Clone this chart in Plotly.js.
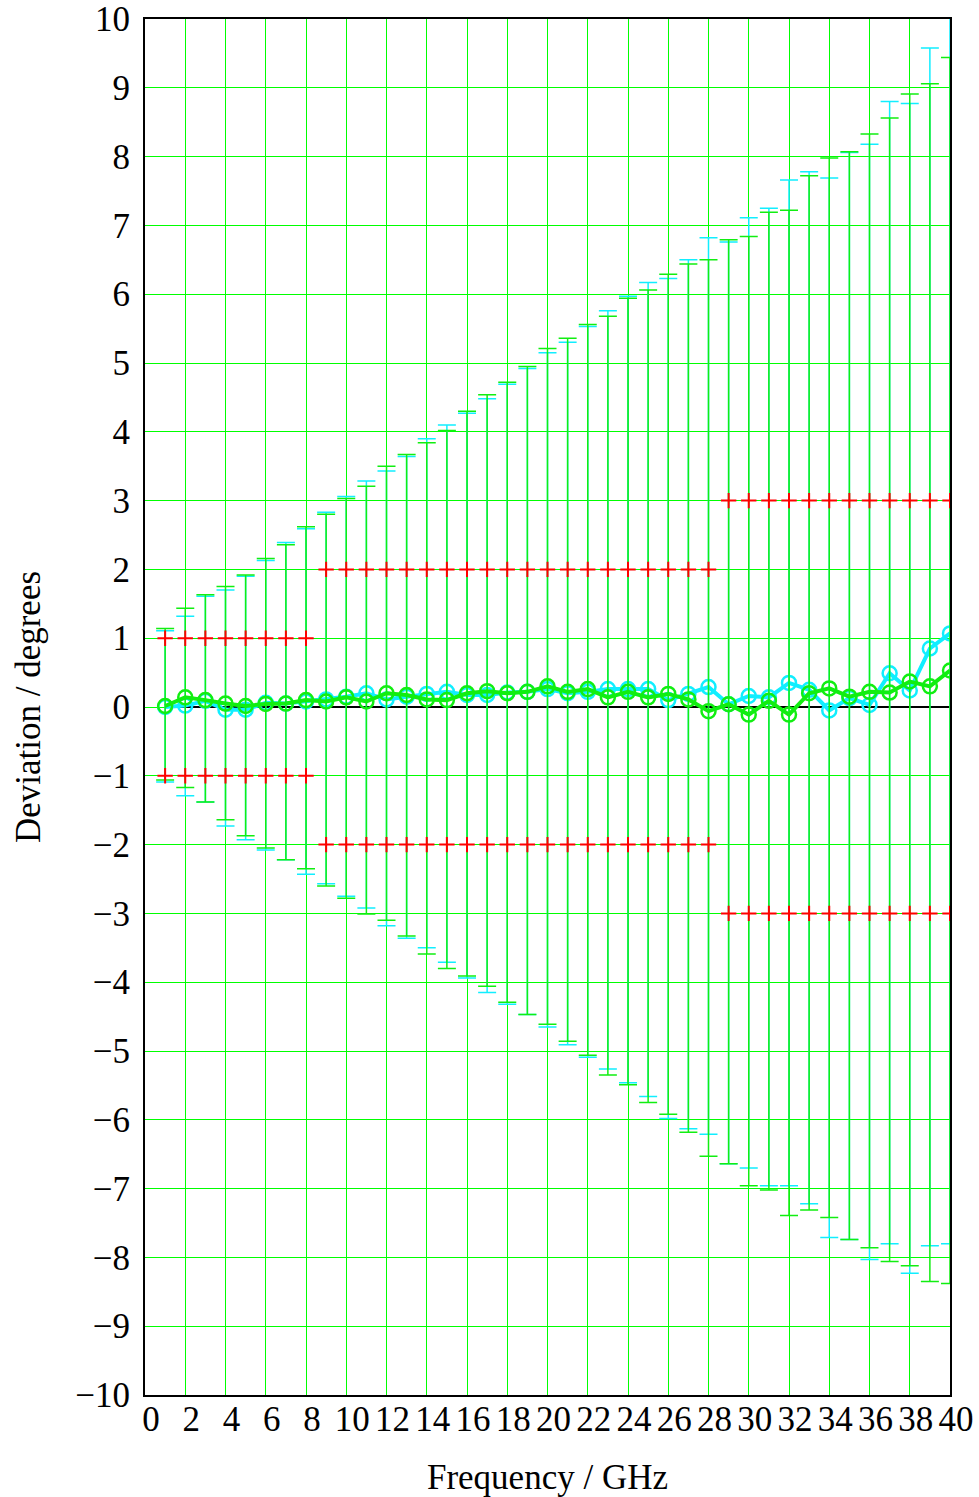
<!DOCTYPE html>
<html>
<head>
<meta charset="utf-8">
<script src="https://cdn.plot.ly/plotly-3.0.1.min.js"></script>
<style>html,body{margin:0;padding:0;background:#fff}#chart{width:979px;height:1497px}</style>
</head>
<body>
<div id="chart"></div>
<script>
// Frequency points (GHz)
var freq = [1,2,3,4,5,6,7,8,9,10,11,12,13,14,15,16,17,18,19,20,21,22,23,24,25,26,27,28,29,30,31,32,33,34,35,36,37,38,39,40];

// Cyan series: deviation and error-bar limits (degrees)
var cyanVal = [0.0,0.02,0.09,-0.04,-0.04,0.06,0.05,0.08,0.11,0.15,0.20,0.11,0.15,0.19,0.22,0.175,0.175,0.21,0.22,0.26,0.20,0.22,0.26,0.26,0.26,0.10,0.19,0.29,0.04,0.16,0.14,0.35,0.25,-0.05,0.13,0.03,0.49,0.24,0.85,1.07];
var cyanHi = [1.11,1.32,1.61,1.70,1.90,2.13,2.39,2.59,2.83,3.06,3.285,3.43,3.64,3.90,4.10,4.27,4.48,4.69,4.92,5.15,5.30,5.53,5.76,5.97,6.17,6.23,6.50,6.82,6.76,7.11,7.25,7.66,7.78,7.69,8.06,8.18,8.80,8.77,9.58,10.03];
var cyanLo = [-1.09,-1.29,-1.38,-1.73,-1.93,-2.08,-2.22,-2.43,-2.57,-2.75,-2.92,-3.18,-3.36,-3.50,-3.71,-3.94,-4.15,-4.32,-4.47,-4.65,-4.91,-5.09,-5.26,-5.46,-5.66,-5.98,-6.13,-6.21,-6.64,-6.70,-6.96,-6.96,-7.22,-7.71,-7.74,-8.03,-7.80,-8.23,-7.83,-7.80];

// Green series: deviation and error-bar limits (degrees)
var greenVal = [0.015,0.14,0.10,0.05,0.015,0.045,0.05,0.10,0.08,0.14,0.08,0.20,0.175,0.11,0.10,0.20,0.23,0.20,0.22,0.30,0.22,0.26,0.14,0.22,0.14,0.19,0.11,-0.06,0.04,-0.11,0.09,-0.11,0.20,0.27,0.15,0.22,0.21,0.37,0.30,0.53];
var greenHi = [1.14,1.435,1.63,1.75,1.92,2.16,2.36,2.62,2.80,3.03,3.21,3.50,3.67,3.84,4.02,4.30,4.54,4.72,4.95,5.21,5.36,5.56,5.68,5.94,6.06,6.29,6.44,6.50,6.79,6.84,7.19,7.22,7.72,7.98,8.07,8.33,8.56,8.91,9.06,9.44];
var greenLo = [-1.06,-1.17,-1.38,-1.64,-1.87,-2.05,-2.22,-2.35,-2.60,-2.78,-3.01,-3.10,-3.33,-3.59,-3.80,-3.91,-4.06,-4.29,-4.47,-4.61,-4.86,-5.06,-5.35,-5.49,-5.75,-5.92,-6.18,-6.53,-6.64,-6.96,-7.02,-7.39,-7.31,-7.42,-7.74,-7.86,-8.06,-8.12,-8.35,-8.38];

// Specification limits (+/- degrees)
var limit = [1,1,1,1,1,1,1,1,2,2,2,2,2,2,2,2,2,2,2,2,2,2,2,2,2,2,2,2,3,3,3,3,3,3,3,3,3,3,3,3];

// Axis ticks
var xTicks = [0,2,4,6,8,10,12,14,16,18,20,22,24,26,28,30,32,34,36,38,40];
var yTicks = [-10,-9,-8,-7,-6,-5,-4,-3,-2,-1,0,1,2,3,4,5,6,7,8,9,10];

function plus(hi, val){ return hi.map(function(h,i){ return h - val[i]; }); }
function minus(lo, val){ return lo.map(function(l,i){ return val[i] - l; }); }

var CYAN = '#11eeff', GREEN = '#11ee11';

var traces = [
  {x:[freq[0], freq[freq.length-1]], y:[0,0], mode:'lines', line:{color:'#000', width:2}, hoverinfo:'skip'},
  {x:freq, y:cyanVal, mode:'lines+markers',
   line:{color:CYAN, width:4},
   marker:{symbol:'circle-open', size:14, color:CYAN, line:{width:2.5}},
   error_y:{type:'data', symmetric:false, array:plus(cyanHi,cyanVal), arrayminus:minus(cyanLo,cyanVal), color:CYAN, thickness:1.5, width:9}},
  {x:freq, y:greenVal, mode:'lines+markers',
   line:{color:GREEN, width:4},
   marker:{symbol:'circle-open', size:14, color:GREEN, line:{width:2.5}},
   error_y:{type:'data', symmetric:false, array:plus(greenHi,greenVal), arrayminus:minus(greenLo,greenVal), color:GREEN, thickness:1.5, width:9}},
  {x:freq, y:limit, mode:'markers', marker:{symbol:'cross-thin', size:11, color:'#ff0000', line:{color:'#ff0000', width:2}}},
  {x:freq, y:limit.map(function(v){return -v;}), mode:'markers', marker:{symbol:'cross-thin', size:11, color:'#ff0000', line:{color:'#ff0000', width:2}}}
];

var font = {family:'"Liberation Serif", "Times New Roman", serif', size:35, color:'#000'};

var layout = {
  width:979, height:1497,
  margin:{l:145, r:29, t:19, b:102, pad:0},
  paper_bgcolor:'#fff', plot_bgcolor:'#fff',
  showlegend:false,
  font:font,
  xaxis:{
    range:[0,40], tickmode:'array', tickvals:xTicks, ticktext:xTicks.map(String),
    showgrid:true, gridcolor:'#00ff00', gridwidth:1,
    zeroline:false, showline:true, mirror:true, linecolor:'#000', linewidth:2,
    ticks:'', ticklabelshift:6, ticklabelstandoff:-8,
    tickfont:font,
    title:{text:'Frequency / GHz', font:font, standoff:28}
  },
  yaxis:{
    range:[-10,10], tickmode:'array', tickvals:yTicks,
    ticktext:yTicks.map(function(v){ return v < 0 ? '\u2212' + Math.abs(v) : String(v); }),
    showgrid:true, gridcolor:'#00ff00', gridwidth:1,
    zeroline:false, showline:true, mirror:true, linecolor:'#000', linewidth:2,
    ticks:'', ticklabelstandoff:6,
    tickfont:font,
    title:{text:'Deviation / degrees', font:font, standoff:24}
  }
};

Plotly.newPlot('chart', traces, layout, {staticPlot:true, displayModeBar:false});
</script>
</body>
</html>
